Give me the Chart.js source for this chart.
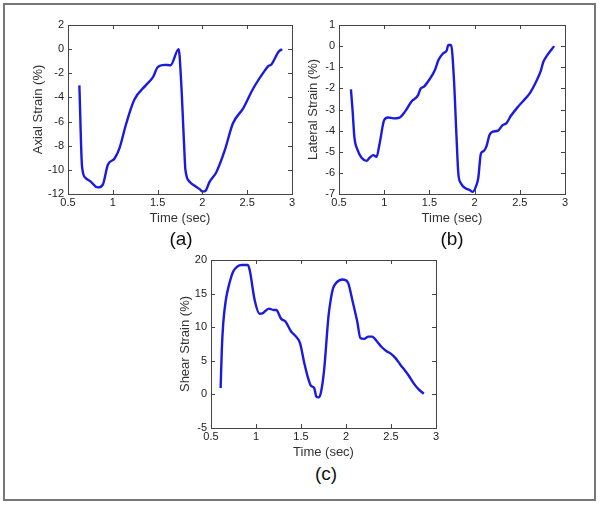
<!DOCTYPE html>
<html><head><meta charset="utf-8">
<script src="https://cdn.jsdelivr.net/npm/chart.js@4/dist/chart.umd.min.js"></script>
<style>
html,body{margin:0;padding:0;background:#fff;width:600px;height:505px;overflow:hidden;}
#frame{position:absolute;left:3px;top:3px;width:589px;height:494px;border:2px solid #777;}
canvas{position:absolute;}
.lbl{position:absolute;font-family:"Liberation Sans",Arial,sans-serif;font-size:19px;color:#111;transform:translate(-50%,-50%);line-height:1;white-space:nowrap;}
</style></head>
<body>
<div id="frame"></div>
<canvas id="ca" width="269" height="226" style="left:31px;top:0px"></canvas>
<canvas id="cb" width="267" height="226" style="left:306px;top:0px"></canvas>
<canvas id="cc" width="266" height="220" style="left:178px;top:240px"></canvas>
<div class="lbl" style="left:181px;top:238px">(a)</div>
<div class="lbl" style="left:452px;top:238px">(b)</div>
<div class="lbl" style="left:326px;top:473px">(c)</div>
<script>
// ---- data ----
const timeTicks = [0.5, 1, 1.5, 2, 2.5, 3];
const timeTickLabels = ['0.5', '1', '1.5', '2', '2.5', '3'];
const axialTicks = [-12, -10, -8, -6, -4, -2, 0, 2];
const lateralTicks = [-7, -6, -5, -4, -3, -2, -1, 0, 1];
const shearTicks = [-5, 0, 5, 10, 15, 20];

const axialTime = [0.627,0.657,0.70,0.757,0.81,0.84,0.89,0.944,1.02,1.075,1.15,1.24,1.37,1.45,1.5,1.58,1.645,1.735,1.76,1.795,1.81,1.86,1.91,1.97,2.0,2.03,2.08,2.157,2.25,2.34,2.455,2.567,2.70,2.735,2.77,2.85,2.89];
const axialStrain = [-3.0,-9.75,-10.7,-11.0,-11.4,-11.45,-11.2,-9.6,-9.06,-8.2,-6.16,-4.2,-2.98,-2.3,-1.5,-1.3,-1.33,0.0,-2.3,-7.8,-9.97,-11.0,-11.3,-11.6,-11.8,-11.77,-11.0,-10.17,-8.37,-6.16,-4.9,-3.26,-1.74,-1.41,-1.27,-0.22,0.0];

const lateralTime = [0.632,0.65,0.67,0.706,0.75,0.805,0.84,0.88,0.915,0.95,1.0,1.044,1.10,1.17,1.23,1.30,1.375,1.40,1.44,1.50,1.56,1.60,1.65,1.69,1.71,1.74,1.77,1.80,1.82,1.85,1.90,1.945,1.98,2.02,2.04,2.07,2.10,2.13,2.165,2.20,2.26,2.31,2.35,2.40,2.48,2.53,2.61,2.68,2.73,2.76,2.80,2.88];
const lateralStrain = [-2.05,-3.03,-4.3,-4.92,-5.28,-5.43,-5.28,-5.16,-5.24,-4.6,-3.5,-3.38,-3.42,-3.38,-3.1,-2.63,-2.32,-2.03,-1.92,-1.58,-1.14,-0.66,-0.35,-0.22,0.05,0.05,-1.45,-4.3,-6.03,-6.5,-6.73,-6.81,-6.9,-6.58,-6.26,-5.08,-4.97,-4.76,-4.21,-4.05,-4.0,-3.74,-3.66,-3.31,-2.87,-2.63,-2.24,-1.69,-1.2,-0.75,-0.45,0.0];

const shearTime = [0.607,0.62,0.636,0.665,0.71,0.746,0.79,0.84,0.91,0.93,0.985,1.04,1.077,1.143,1.195,1.224,1.28,1.327,1.39,1.445,1.49,1.537,1.59,1.61,1.647,1.67,1.695,1.72,1.757,1.805,1.83,1.857,1.893,1.96,1.996,2.026,2.07,2.125,2.16,2.20,2.25,2.29,2.345,2.39,2.455,2.49,2.55,2.60,2.69,2.75,2.805,2.864];
const shearStrain = [0.94,6.6,10.6,14.06,16.8,18.27,19.0,19.26,19.26,18.5,14.06,12.0,12.1,12.77,12.57,12.57,11.24,10.84,9.36,8.6,7.6,4.65,1.93,1.29,0.94,-0.3,-0.45,0.2,3.66,11.58,14.06,15.8,16.63,17.1,17.0,16.53,14.06,10.84,8.37,8.27,8.6,8.6,7.87,7.13,6.39,6.14,5.4,4.5,2.92,1.68,0.79,0.1];

// ---- drawing ----
const FONT = '"Liberation Sans", Arial, sans-serif';
const boxPlugin = {
  id: 'matlabBox',
  afterDraw(chart) {
    const {ctx, chartArea: a, scales} = chart;
    ctx.save();
    ctx.strokeStyle = '#444';
    ctx.lineWidth = 1;
    ctx.strokeRect(Math.round(a.left) + 0.5, Math.round(a.top) + 0.5, Math.round(a.right - a.left), Math.round(a.bottom - a.top));
    const L = 4;
    ctx.beginPath();
    scales.x.ticks.forEach(t => {
      const px = Math.round(scales.x.getPixelForValue(t.value)) + 0.5;
      ctx.moveTo(px, a.bottom); ctx.lineTo(px, a.bottom - L);
      ctx.moveTo(px, a.top); ctx.lineTo(px, a.top + L);
    });
    scales.y.ticks.forEach(t => {
      const py = Math.round(scales.y.getPixelForValue(t.value)) + 0.5;
      ctx.moveTo(a.left, py); ctx.lineTo(a.left + L, py);
      ctx.moveTo(a.right, py); ctx.lineTo(a.right - L, py);
    });
    ctx.stroke();
    ctx.restore();
  }
};

function makeChart(id, xs, ys, yTicks, yTitle, padTop, yWidth, xHeight) {
  const pts = xs.map((x, i) => ({x: x, y: ys[i]}));
  return new Chart(document.getElementById(id), {
    type: 'line',
    data: {datasets: [{data: pts, borderColor: '#1a1ae0', borderWidth: 2.4, pointRadius: 0, cubicInterpolationMode: 'monotone', fill: false}]},
    options: {
      responsive: false, animation: false, devicePixelRatio: 1,
      layout: {padding: {top: padTop, right: 8, left: 0, bottom: 0}},
      plugins: {legend: {display: false}, tooltip: {enabled: false}},
      scales: {
        x: {
          type: 'linear', min: timeTicks[0], max: timeTicks[timeTicks.length - 1],
          afterBuildTicks: s => { s.ticks = timeTicks.map(v => ({value: v})); },
          afterFit: s => { s.height = xHeight; },
          grid: {display: false, drawTicks: false}, border: {display: false},
          ticks: {padding: 2, color: '#222', font: {family: FONT, size: 11}, maxRotation: 0, autoSkip: false,
                  callback: (v, i) => timeTickLabels[i]},
          title: {display: true, text: 'Time (sec)', padding: 0, color: '#333', font: {family: FONT, size: 13}}
        },
        y: {
          type: 'linear', min: yTicks[0], max: yTicks[yTicks.length - 1],
          afterBuildTicks: s => { s.ticks = yTicks.map(v => ({value: v})); },
          afterFit: s => { s.width = yWidth; },
          grid: {display: false, drawTicks: false}, border: {display: false},
          ticks: {padding: 4, color: '#222', font: {family: FONT, size: 11}, autoSkip: false,
                  callback: (v, i) => String(yTicks[i])},
          title: {display: true, text: yTitle, padding: 0, color: '#333', font: {family: FONT, size: 13}}
        }
      }
    },
    plugins: [boxPlugin]
  });
}

makeChart('ca', axialTime, axialStrain, axialTicks, 'Axial Strain (%)', 25, 37, 32);
makeChart('cb', lateralTime, lateralStrain, lateralTicks, 'Lateral Strain (%)', 25, 33, 32);
makeChart('cc', shearTime, shearStrain, shearTicks, 'Shear Strain (%)', 20, 33, 32);
</script>
</body></html>
